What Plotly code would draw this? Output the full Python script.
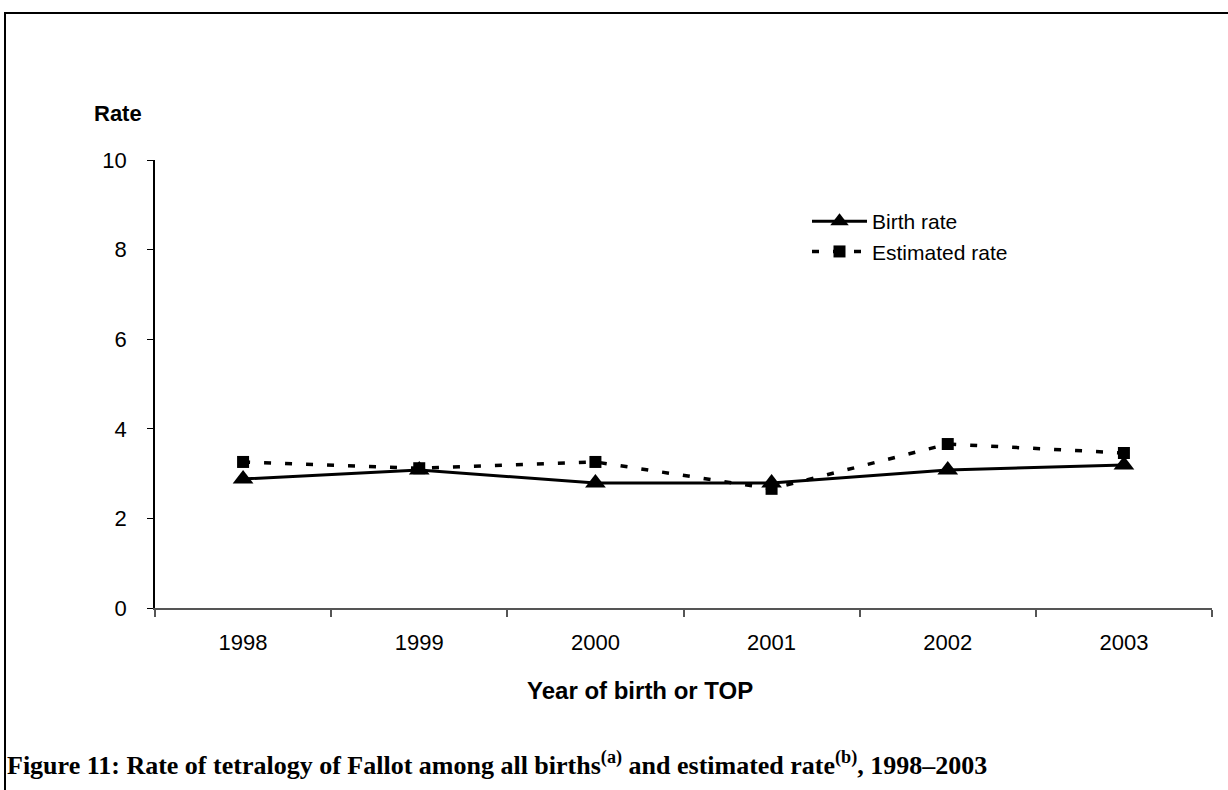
import plotly.graph_objects as go

years = ["1998", "1999", "2000", "2001", "2002", "2003"]
birth_rate = [2.88, 3.08, 2.79, 2.79, 3.08, 3.19]
estimated_rate = [3.26, 3.12, 3.26, 2.66, 3.66, 3.46]

fig = go.Figure()
fig.add_trace(go.Scatter(
    x=years, y=birth_rate, name="Birth rate", mode="lines+markers",
    line=dict(color="black", width=3),
    marker=dict(symbol="triangle-up", size=18, color="black"),
))
fig.add_trace(go.Scatter(
    x=years, y=estimated_rate, name="Estimated rate", mode="lines+markers",
    line=dict(color="black", width=3.5, dash="7px,14px"),
    marker=dict(symbol="square", size=12, color="black"),
))

L, R, T, B = 155, 16, 160, 182
W, H = 1228, 790
pw, ph = W - L - R, H - T - B

def px(x):
    return (x - L) / pw

def py(y):
    return (H - B - y) / ph

fig.update_layout(
    width=W, height=H,
    margin=dict(l=L, r=R, t=T, b=B),
    paper_bgcolor="white", plot_bgcolor="white",
    font=dict(family="Liberation Sans, Arial", size=22, color="black"),
    showlegend=True,
    legend=dict(x=px(807), y=py(201), xanchor="left", yanchor="top",
                bgcolor="rgba(0,0,0,0)", font=dict(size=21), itemwidth=55,
                tracegroupgap=0),
    xaxis=dict(type="category", range=[-0.5, 5.5], showgrid=False,
               showline=True, linecolor="#555555", linewidth=2,
               ticks="outside", tickson="boundaries", ticklen=7,
               tickcolor="#555555", tickwidth=1.5,
               tickfont=dict(size=22), ticklabelstandoff=14),
    yaxis=dict(range=[0, 10], dtick=2, showgrid=False, zeroline=False,
               showline=True, linecolor="black", linewidth=1.5,
               ticks="outside", ticklen=6, tickcolor="black",
               tickfont=dict(size=22), ticklabelstandoff=16),
    annotations=[
        dict(text="<b>Rate</b>", x=px(92), y=py(113), xref="paper", yref="paper",
             xanchor="left", yanchor="middle", showarrow=False,
             font=dict(size=22)),
        dict(text="<b>Year of birth or TOP</b>", x=px(640), y=py(690),
             xref="paper", yref="paper", xanchor="center", yanchor="middle",
             showarrow=False, font=dict(size=24)),
        dict(text="<b>Figure 11: Rate of tetralogy of Fallot among all births<sup>(a)</sup> and estimated rate<sup>(b)</sup>, 1998–2003</b>",
             x=px(5), y=py(763), xref="paper", yref="paper",
             xanchor="left", yanchor="middle", showarrow=False,
             font=dict(family="Liberation Serif, Times New Roman", size=26)),
    ],
    shapes=[
        dict(type="rect", xref="paper", yref="paper",
             x0=px(5), x1=px(1260), y0=py(820), y1=py(13),
             line=dict(color="black", width=2), fillcolor="rgba(0,0,0,0)",
             layer="below"),
    ],
)

fig.write_html(
    "out.html",
    config={"displayModeBar": False},
    post_script="document.body.style.margin='0';document.body.style.overflow='hidden';",
)
